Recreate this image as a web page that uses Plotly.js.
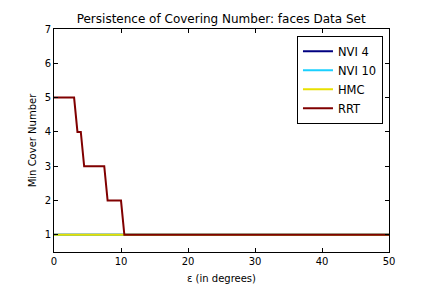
<!DOCTYPE html>
<html><head><meta charset="utf-8">
<script src="https://cdn.plot.ly/plotly-3.0.1.min.js"></script>
<style>html,body{margin:0;padding:0;background:#fff}#c{width:432px;height:288px}</style>
</head><body><div id="c"></div>
<script>
const seriesNames = ["NVI 4", "NVI 10", "HMC", "RRT"];
const seriesColors = ["#000080", "#1ad0ff", "#e8e000", "#800000"];
const flatX = [0, 50];
const nvi4Y = [1, 1];
const nvi10Y = [1, 1];
const hmcY = [1, 1];
const rrtX = [0, 3, 3.5, 4, 4.5, 7.5, 8, 10, 10.5, 50];
const rrtY = [5, 5, 4, 4, 3, 3, 2, 2, 1, 1];
const xs = [flatX, flatX, flatX, rrtX];
const ys = [nvi4Y, nvi10Y, hmcY, rrtY];
const xTicks = [0, 10, 20, 30, 40, 50];
const yTicks = [1, 2, 3, 4, 5, 6, 7];

const traces = seriesNames.map((n, i) => ({
  x: xs[i], y: ys[i], name: n, type: "scatter", mode: "lines",
  line: {color: seriesColors[i], width: 2}
}));
const font = {family: "DejaVu Sans", color: "#000"};
const axisCommon = {
  showgrid: false, zeroline: false, showline: true, linecolor: "#000", linewidth: 1,
  mirror: "ticks", ticks: "inside", ticklen: 4, tickcolor: "#000",
  tickfont: {family: "DejaVu Sans", size: 10, color: "#000"}
};
const layout = {
  width: 432, height: 288,
  margin: {l: 54, r: 43, t: 29, b: 36},
  paper_bgcolor: "#fff", plot_bgcolor: "#fff",
  font: font,
  title: {text: "Persistence of Covering Number: faces Data Set", font: {family: "DejaVu Sans", size: 12, color: "#000"}, x: 0.512, xanchor: "center", y: 0.935, yanchor: "middle"},
  xaxis: Object.assign({}, axisCommon, {range: [0, 50], tickvals: xTicks, ticktext: xTicks.map(String),
    title: {text: "ε (in degrees)", font: {family: "DejaVu Sans", size: 10, color: "#000"}, standoff: 8}}),
  yaxis: Object.assign({}, axisCommon, {range: [0.5, 7], tickvals: yTicks, ticktext: yTicks.map(String),
    title: {text: "Min Cover Number", font: {family: "DejaVu Sans", size: 10, color: "#000"}, standoff: 6}}),
  showlegend: true,
  legend: {x: 0.982, xanchor: "right", y: 0.97, yanchor: "top", bgcolor: "#fff", bordercolor: "#000", borderwidth: 1,
    font: {family: "DejaVu Sans", size: 11.5, color: "#000"}, tracegroupgap: 0, itemwidth: 30}
};
Plotly.newPlot("c", traces, layout, {displayModeBar: false, staticPlot: true});
</script></body></html>
